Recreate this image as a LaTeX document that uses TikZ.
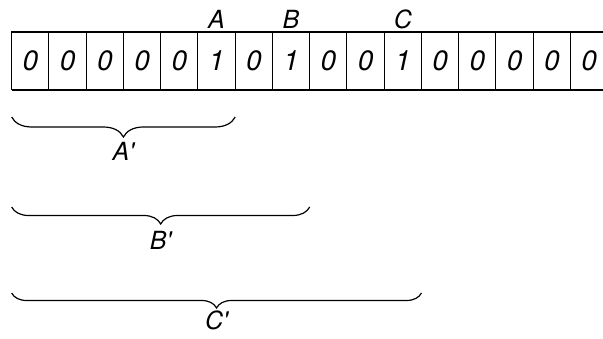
\documentclass[tikz,border=0pt]{standalone}
\usepackage{fontspec}
\setmainfont{TeX Gyre Heros}
\usepackage{tikz}
\usetikzlibrary{positioning,decorations.pathreplacing}

\begin{document}
\begin{tikzpicture}[x=1pt, y=-1pt,
    bitcell/.style={draw, line width=1pt, minimum width=37.25pt, minimum height=58pt,
                    inner sep=0pt, outer sep=0pt, font=\itshape\fontsize{28}{28}\selectfont},
    marklabel/.style={inner sep=0pt, font=\itshape\fontsize{25}{25}\selectfont},
    span/.style={decorate, decoration={brace, mirror, amplitude=#1}, line width=1.2pt}]
  \useasboundingbox (0,0) rectangle (603,339);
  % the bit string
  \node[bitcell] (c1) at (30.3,61) {0};
  \foreach \d [count=\i from 2, remember=\i as \prev (initially 1)] in
      {0,0,0,0,1,0,1,0,0,1,0,0,0,0,0}
    \node[bitcell, right=0pt of c\prev] (c\i) {\d};
  \draw[line width=1.6pt] (c1.north west) -- (c16.north east)
                          (c1.south west) -- (c16.south east)
                          (c1.north west) -- (c1.south west);
  % marked ones
  \node[marklabel, above=3pt of c6] (A) {A};
  \node[marklabel, above=3pt of c8] (B) {B};
  \node[marklabel, above=3pt of c11] (C) {C};
  % prefixes
  \coordinate (a0) at ([yshift=-27pt]c1.south west);
  \coordinate (a1) at ([yshift=-27pt]c6.south east);
  \coordinate (b0) at ([yshift=-117pt]c1.south west);
  \coordinate (b1) at ([yshift=-117pt]c8.south east);
  \coordinate (k0) at ([yshift=-203pt]c1.south west);
  \coordinate (k1) at ([yshift=-203pt]c11.south east);
  \draw[span=20pt] (a0) -- (a1) node[marklabel, midway, below=25pt] (Ap) {A\textquotesingle};
  \draw[span=17pt] (b0) -- (b1) node[marklabel, midway, below=24pt] (Bp) {B\textquotesingle};
  \draw[span=15pt] (k0) -- (k1) node[marklabel, midway, below=17pt] (Cp) {C\textquotesingle};
\end{tikzpicture}
\end{document}
